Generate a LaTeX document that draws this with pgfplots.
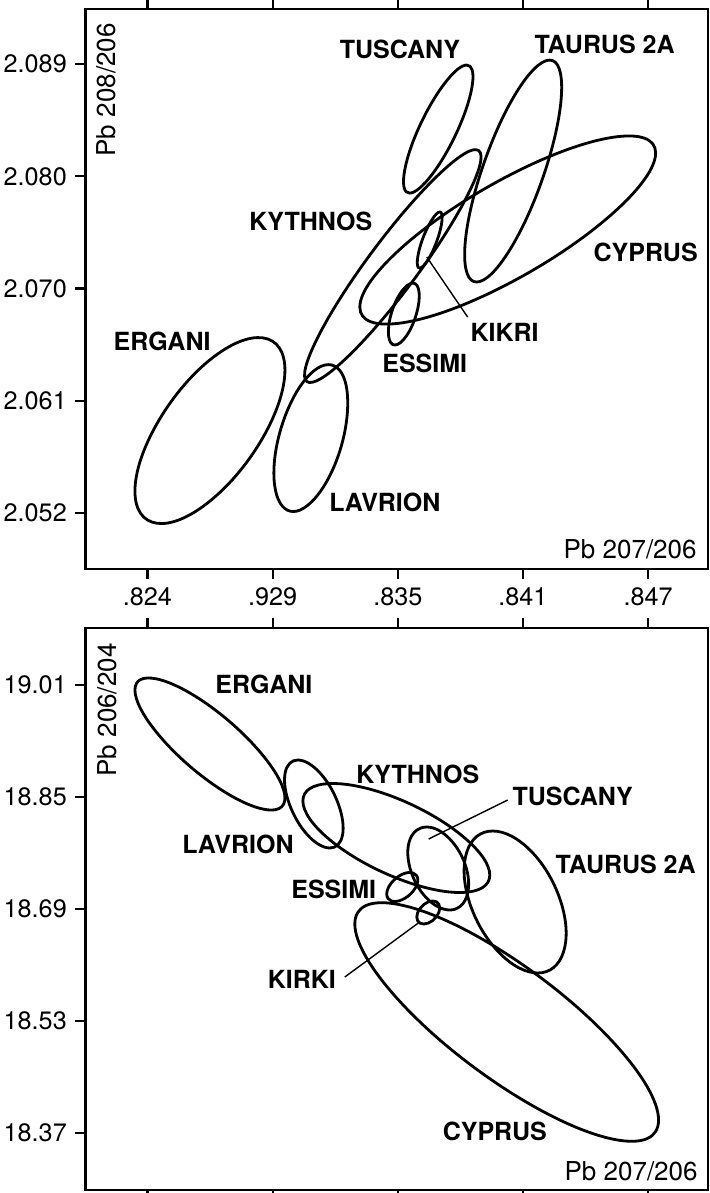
\documentclass[border=0pt]{standalone}
\usepackage{fontspec}
\setmainfont{TeX Gyre Heros}
\usepackage{pgfplots}
\pgfplotsset{compat=1.18}
\tikzset{
  lab/.style={font=\fontsize{12.5pt}{15pt}\selectfont\bfseries, inner sep=0pt},
  axl/.style={font=\fontsize{13pt}{15pt}\selectfont, inner sep=0pt},
}
\newcommand{\tl}[1]{\mbox{\fontsize{12.6pt}{15pt}\selectfont #1}}
\begin{document}
\fontsize{12.5pt}{15pt}\selectfont
\begin{tikzpicture}[x=1pt,y=1pt]
\pgfplotsset{
  panel/.style={
    scale only axis, width=311.25pt, anchor=north west,
    axis line style={line width=1.2pt},
    every tick/.style={line width=1.1pt, black},
    tick align=outside, major tick length=5pt,
    xtick={0.823,0.829,0.835,0.841,0.847},
    xtick pos=both, ytick pos=left, xticklabel pos=bottom,
    xmin=0.82003, xmax=0.84987,
    scaled ticks=false, clip=false,
    every axis plot/.append style={line width=1.4pt, black},
    ell/.style={smooth cycle, tension=0.68},
  },
}
% ---------------- top panel ----------------
\begin{axis}[panel, at={(42.75pt,-4.5pt)}, height=280pt,
  ymin=2.04739, ymax=2.09354,
  xticklabels={\tl{.824},\tl{.929},\tl{.835},\tl{.841},\tl{.847}},
  ytick={2.052,2.06125,2.0705,2.07975,2.089},
  yticklabels={\tl{2.052},\tl{2.061},\tl{2.070},\tl{2.080},\tl{2.089}}]
% ERGANI
\addplot[ell] coordinates {(0.82959,2.06378) (0.82853,2.05821) (0.82599,2.05298) (0.82346,2.05116) (0.82240,2.05381) (0.82346,2.05938) (0.82599,2.06462) (0.82853,2.06644)};
% LAVRION
\addplot[ell] coordinates {(0.83260,2.06107) (0.83209,2.05646) (0.83083,2.05286) (0.82958,2.05238) (0.82906,2.05530) (0.82958,2.05990) (0.83083,2.06350) (0.83209,2.06398)};
% KYTHNOS
\addplot[ell] coordinates {(0.83888,2.08187) (0.83835,2.07821) (0.83572,2.07112) (0.83252,2.06475) (0.83064,2.06284) (0.83117,2.06650) (0.83380,2.07359) (0.83700,2.07996)};
% TUSCANY
\addplot[ell] coordinates {(0.83830,2.08892) (0.83858,2.08738) (0.83790,2.08365) (0.83665,2.07992) (0.83557,2.07837) (0.83530,2.07992) (0.83598,2.08365) (0.83723,2.08738)};
% TAURUS 2A
\addplot[ell] coordinates {(0.84228,2.08933) (0.84285,2.08665) (0.84206,2.08018) (0.84038,2.07372) (0.83878,2.07104) (0.83821,2.07372) (0.83900,2.08018) (0.84068,2.08665)};
% CYPRUS
\addplot[ell] coordinates {(0.84736,2.08167) (0.84528,2.07666) (0.84027,2.07087) (0.83526,2.06769) (0.83318,2.06898) (0.83526,2.07398) (0.84027,2.07977) (0.84528,2.08296)};
% KIKRI
\addplot[ell] coordinates {(0.83701,2.07681) (0.83712,2.07613) (0.83689,2.07450) (0.83645,2.07287) (0.83605,2.07219) (0.83594,2.07287) (0.83617,2.07450) (0.83662,2.07613)};
% ESSIMI
\addplot[ell] coordinates {(0.83572,2.07095) (0.83602,2.07021) (0.83589,2.06840) (0.83541,2.06659) (0.83486,2.06585) (0.83456,2.06659) (0.83468,2.06840) (0.83516,2.07021)};
% leader KIKRI
\addplot[line width=0.7pt] coordinates {(0.83639,2.07310) (0.83835,2.06815)};
\node[lab] at (axis cs:0.83510,2.09024) {TUSCANY};
\node[lab] at (axis cs:0.84491,2.09065) {TAURUS 2A};
\node[lab] at (axis cs:0.83083,2.07606) {KYTHNOS};
\node[lab] at (axis cs:0.84688,2.07351) {CYPRUS};
\node[lab] at (axis cs:0.84012,2.06692) {KIKRI};
\node[lab] at (axis cs:0.83629,2.06436) {ESSIMI};
\node[lab] at (axis cs:0.82370,2.06618) {ERGANI};
\node[lab] at (axis cs:0.83438,2.05291) {LAVRION};
\node[axl, anchor=base east, xshift=-5.5pt, yshift=5.5pt] at (rel axis cs:1,0) {Pb 207/206};
\node[axl, xshift=5.5pt, yshift=-7pt, rotate=90, anchor=north east] at (rel axis cs:0,1) {Pb 208/206};
\end{axis}
% ---------------- bottom panel ----------------
\begin{axis}[panel, at={(42.75pt,-314pt)}, height=281pt,
  ymin=18.28857, ymax=19.09143,
  xticklabels={,,,,},
  ytick={18.37,18.53,18.69,18.85,19.01},
  yticklabels={\tl{18.37},\tl{18.53},\tl{18.69},\tl{18.85},\tl{19.01}}]
% ERGANI
\addplot[ell] coordinates {(0.82959,18.84857) (0.82853,18.83279) (0.82599,18.87143) (0.82345,18.94187) (0.82240,19.00286) (0.82345,19.01864) (0.82599,18.98) (0.82853,18.90956)};
% LAVRION
\addplot[ell] coordinates {(0.83021,18.90286) (0.83127,18.88444) (0.83215,18.84) (0.83235,18.79556) (0.83174,18.77714) (0.83068,18.79556) (0.82980,18.84) (0.82960,18.88444)};
% KYTHNOS
\addplot[ell] coordinates {(0.83941,18.73857) (0.83809,18.71364) (0.83493,18.73429) (0.83176,18.78840) (0.83045,18.84429) (0.83176,18.86921) (0.83493,18.84857) (0.83809,18.79446)};
% TUSCANY
\addplot[ell] coordinates {(0.83639,18.80714) (0.83750,18.78977) (0.83829,18.74786) (0.83828,18.70594) (0.83749,18.68857) (0.83637,18.70594) (0.83559,18.74786) (0.83559,18.78977)};
% TAURUS 2A
\addplot[ell] coordinates {(0.83955,18.80143) (0.84142,18.77171) (0.84282,18.70) (0.84294,18.62829) (0.84171,18.59857) (0.83984,18.62829) (0.83843,18.70) (0.83831,18.77171)};
% ESSIMI
\addplot[ell] coordinates {(0.83596,18.73143) (0.83574,18.71567) (0.83521,18.70329) (0.83469,18.70153) (0.83447,18.71143) (0.83469,18.72719) (0.83521,18.73957) (0.83574,18.74133)};
% KIRKI
\addplot[ell] coordinates {(0.83701,18.69143) (0.83685,18.67884) (0.83646,18.66986) (0.83607,18.66974) (0.83591,18.67857) (0.83607,18.69116) (0.83646,18.70014) (0.83685,18.70026)};
% CYPRUS
\addplot[ell] coordinates {(0.84750,18.38857) (0.84537,18.36089) (0.84022,18.43143) (0.83507,18.55887) (0.83294,18.66857) (0.83507,18.69626) (0.84022,18.62571) (0.84537,18.49827)};
% leaders
\addplot[line width=0.7pt] coordinates {(0.83648,18.79) (0.84027,18.84571)};
\addplot[line width=0.7pt] coordinates {(0.83605,18.67143) (0.83246,18.59286)};
\node[lab] at (axis cs:0.82858,19.01143) {ERGANI};
\node[lab] at (axis cs:0.82734,18.78286) {LAVRION};
\node[lab] at (axis cs:0.83596,18.88286) {KYTHNOS};
\node[lab] at (axis cs:0.84338,18.85143) {TUSCANY};
\node[lab] at (axis cs:0.84592,18.75429) {TAURUS 2A};
\node[lab] at (axis cs:0.83193,18.71857) {ESSIMI};
\node[lab] at (axis cs:0.83040,18.59) {KIRKI};
\node[lab] at (axis cs:0.83965,18.37286) {CYPRUS};
\node[axl, anchor=base east, xshift=-5pt, yshift=5pt] at (rel axis cs:1,0) {Pb 207/206};
\node[axl, xshift=6pt, yshift=-7.5pt, rotate=90, anchor=north east] at (rel axis cs:0,1) {Pb 206/204};
\end{axis}
\pgfresetboundingbox
\path[use as bounding box] (0,0) rectangle (355,-596.5);
\end{tikzpicture}
\end{document}
